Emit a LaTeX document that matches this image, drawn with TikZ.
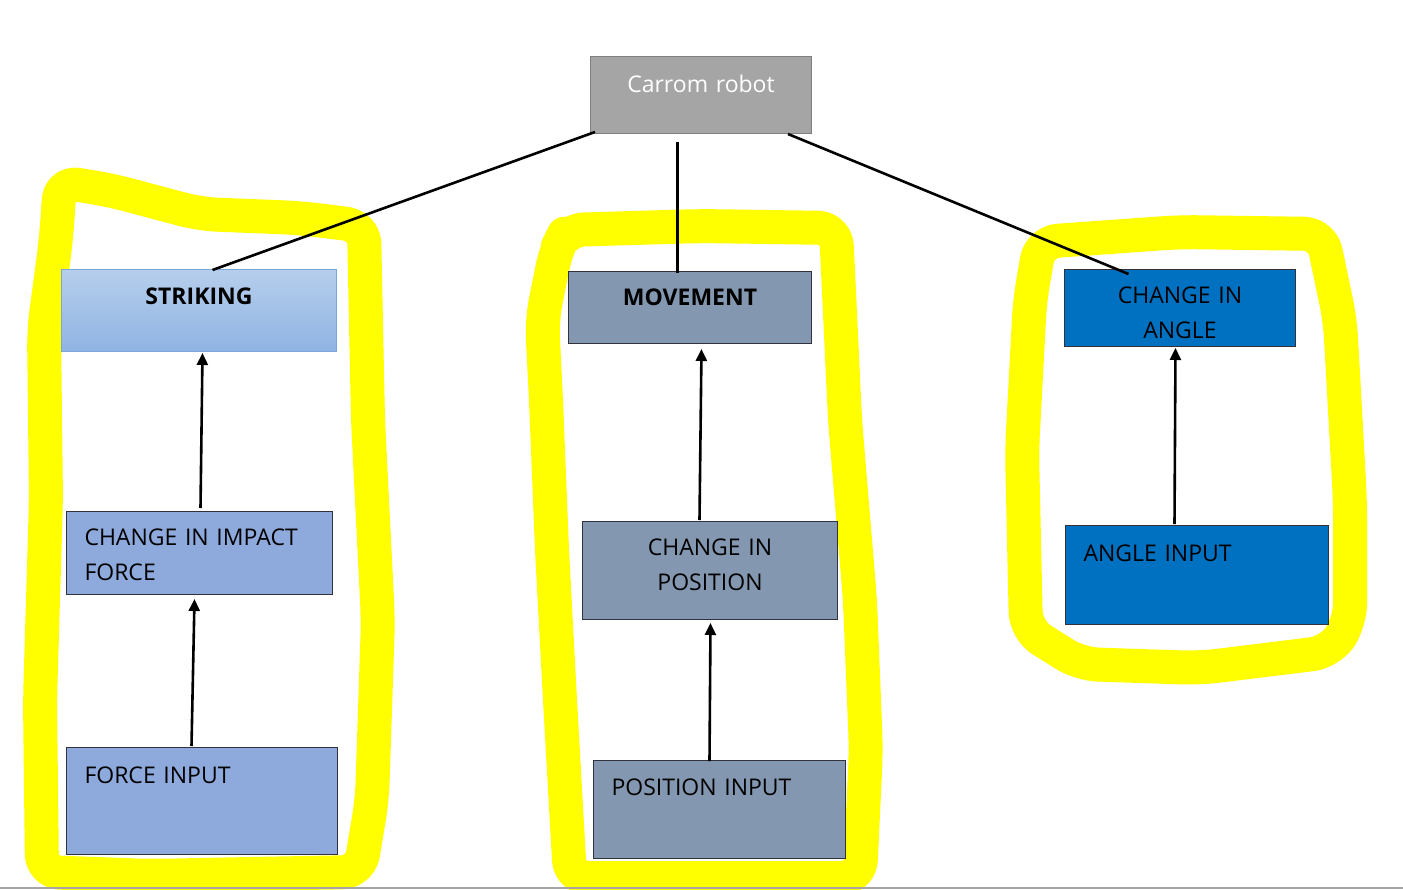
\documentclass[tikz,border=0pt]{standalone}
\usepackage{fontspec}
\setmainfont{Open Sans}
\usepackage{tikz}
\usetikzlibrary{arrows.meta, positioning}
\definecolor{hiyellow}{RGB}{255,255,0}
\definecolor{rootgray}{RGB}{165,165,165}
\definecolor{rootedge}{RGB}{127,127,127}
\definecolor{striketop}{RGB}{182,206,236}
\definecolor{strikebot}{RGB}{143,180,227}
\definecolor{strikeedge}{RGB}{122,166,219}
\definecolor{forceblue}{RGB}{142,169,219}
\definecolor{moveslate}{RGB}{132,151,176}
\definecolor{angleblue}{RGB}{0,112,192}
\definecolor{darkedge}{RGB}{50,50,60}

\begin{document}
\begin{tikzpicture}[x=1pt, y=-1pt,
      box/.style={draw=darkedge, line width=1pt, inner ysep=0pt, inner xsep=0pt,
                  anchor=north west, font=\fontsize{23}{35}\selectfont},
      lbox/.style={box, inner xsep=18pt, align=left},
      cbox/.style={box, align=center},
      hilite/.style={draw=hiyellow, line width=34pt, line join=round,
                     rounded corners=18pt},
      link/.style={line width=2.6pt, black},
      arr/.style={-{Triangle[length=12pt, width=11pt]}, line width=2.6pt, black}
    ]
    \useasboundingbox (0,0) rectangle (1403,889);

    % yellow hand-drawn loops
    \draw[hilite] (60,182) -- (110,190) -- (200,214) -- (300,218) -- (364,226)
      -- (368,420) -- (378,620) -- (372,800) -- (360,872) -- (250,874)
      -- (150,876) -- (42,872) -- (40,700) -- (46,500) -- (44,330)
      -- (56,240) -- cycle;
    \draw[hilite] (566,230) -- (700,226) -- (836,228) -- (845,420)
      -- (860,600) -- (866,750) -- (860,878) -- (700,878) -- (570,878)
      -- (560,700) -- (552,550) -- (546,400) -- (542,320) -- (556,250) -- cycle;
    \draw[hilite] (1040,242) -- (1180,232) -- (1322,234) -- (1340,320)
      -- (1350,500) -- (1350,622) -- (1330,652) -- (1200,668) -- (1080,664)
      -- (1026,630) -- (1022,450) -- (1030,300) -- cycle;

    % boxes
    \node[cbox, fill=rootgray, draw=rootedge, text=white, text width=221pt,
          text height=36pt, text depth=41pt] (root) at (590,56) {Carrom robot};

    \node[cbox, top color=striketop, bottom color=strikebot, draw=strikeedge,
          text width=275pt, text height=35pt, text depth=47pt] (strike) at (61,269)
          {\textbf{STRIKING}};
    \node[lbox, fill=forceblue, text width=230pt, text height=34pt,
          text depth=49pt] (impact) at (66,511) {CHANGE IN IMPACT\\FORCE};
    \node[lbox, fill=forceblue, text width=235pt, text height=36pt,
          text depth=71pt] (forcein) at (66,747) {FORCE INPUT};

    \node[cbox, fill=moveslate, text width=243pt, text height=34pt,
          text depth=38pt] (move) at (568,271) {\textbf{MOVEMENT}};
    \node[cbox, fill=moveslate, text width=255pt, text height=34pt,
          text depth=64pt] (changepos) at (582,521) {CHANGE IN\\POSITION};
    \node[lbox, fill=moveslate, text width=216pt, text height=35pt,
          text depth=63pt] (posin) at (593,760) {POSITION INPUT};

    \node[cbox, fill=angleblue, text width=231pt, text height=34pt,
          text depth=43pt] (changeang) at (1064,269) {CHANGE IN\\ANGLE};
    \node[lbox, fill=angleblue, text width=227pt, text height=36pt,
          text depth=63pt] (angin) at (1065,525) {ANGLE INPUT};

    % tree links
    \draw[link] ([shift={(5,-2)}]root.south west) -- ([shift={(13.5,1)}]strike.north);
    \draw[link] ([shift={(-23.5,8)}]root.south) -- ([shift={(-12.5,2)}]move.north);
    \draw[link] ([shift={(-24,0)}]root.south east) -- ([shift={(-51.5,5)}]changeang.north);

    % inputs feeding up
    \draw[arr] ([shift={(1,-3)}]impact.north) -- ([shift={(3.5,1)}]strike.south);
    \draw[arr] ([shift={(-10.5,-1)}]forcein.north) -- ([shift={(-5,4)}]impact.south);
    \draw[arr] ([shift={(-10.5,-1)}]changepos.north) -- ([shift={(11.5,5)}]move.south);
    \draw[arr] ([shift={(-10,1)}]posin.north) -- ([shift={(0.5,3)}]changepos.south);
    \draw[arr] ([shift={(-22.5,-1)}]angin.north) -- ([shift={(-4.5,1)}]changeang.south);

    \draw[rootgray, line width=1.5pt] (0,888) -- (1403,888);
  \end{tikzpicture}
\end{document}
